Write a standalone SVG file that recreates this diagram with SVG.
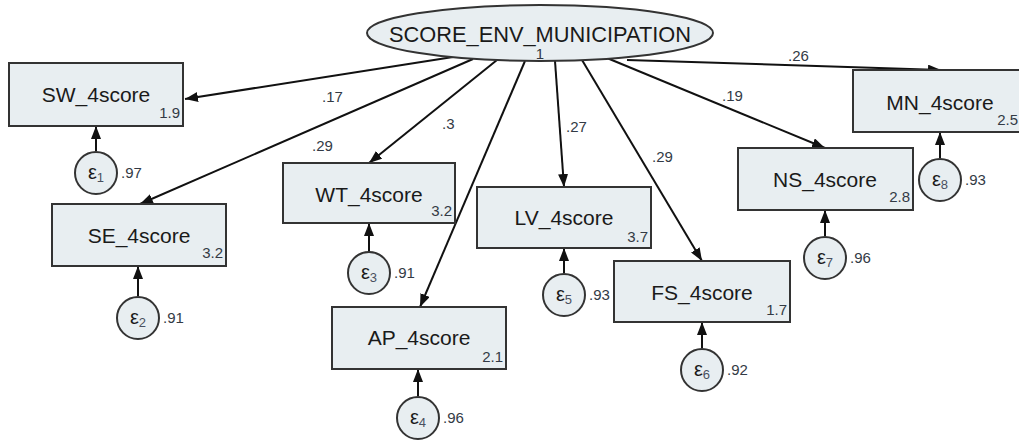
<svg xmlns="http://www.w3.org/2000/svg" width="1019" height="440" viewBox="0 0 1019 440">
<defs>
<marker id="ah" markerUnits="userSpaceOnUse" markerWidth="14" markerHeight="10" refX="13" refY="5" orient="auto">
<path d="M0,0 L13,5 L0,10 Z" fill="#111"/>
</marker>
<style>
.box{fill:#e8eef1;stroke:#333;stroke-width:2}
.err{fill:#e8eef1;stroke:#333;stroke-width:2}
.lbl{font-family:"Liberation Sans",Arial,sans-serif;font-size:21px;fill:#1a1a1a;text-anchor:middle}
.num{font-family:"Liberation Sans",Arial,sans-serif;font-size:15px;fill:#333a45}
.numr{font-family:"Liberation Sans",Arial,sans-serif;font-size:15px;fill:#333a45;text-anchor:end}
.eps{font-family:"Liberation Sans",Arial,sans-serif;font-size:20px;fill:#1a1a1a;text-anchor:middle}
.sub{font-size:13px;fill:#4a5060}
.conn line{stroke:#111;stroke-width:2;marker-end:url(#ah)}
</style>
</defs>
<rect width="1019" height="440" fill="#fff"/>

<g id="connectors" class="conn">
<line x1="453" y1="57" x2="185" y2="99"/>
<line x1="473" y1="59" x2="140" y2="204"/>
<line x1="497" y1="60" x2="369" y2="163"/>
<line x1="525" y1="61" x2="420" y2="307"/>
<line x1="555" y1="61" x2="564" y2="187"/>
<line x1="582" y1="60" x2="702" y2="261"/>
<line x1="607" y1="58" x2="825" y2="148"/>
<line x1="627" y1="60" x2="941" y2="70"/>
<line x1="96" y1="151" x2="96" y2="126"/>
<line x1="138" y1="296" x2="138" y2="266"/>
<line x1="369" y1="251" x2="369" y2="223"/>
<line x1="418" y1="396" x2="418" y2="369"/>
<line x1="564" y1="273" x2="564" y2="248"/>
<line x1="702" y1="348" x2="702" y2="322"/>
<line x1="825" y1="236" x2="825" y2="210"/>
<line x1="940" y1="158" x2="940" y2="132"/>
</g>

<g id="path-labels">
<text class="num" x="322" y="102">.17</text>
<text class="num" x="312" y="151">.29</text>
<text class="num" x="442" y="129">.3</text>
<text class="num" x="479" y="197">.2</text>
<text class="num" x="566" y="132">.27</text>
<text class="num" x="652" y="162">.29</text>
<text class="num" x="722" y="101">.19</text>
<text class="num" x="788" y="61">.26</text>
</g>

<g id="SCORE_ENV_MUNICIPATION">
<ellipse cx="540" cy="33" rx="173" ry="28" class="box"/>
<text class="lbl" x="540" y="42" style="font-size:21.8px">SCORE_ENV_MUNICIPATION</text>
<text class="num" x="540" y="59" style="text-anchor:middle">1</text>
</g>

<g id="SW_4score">
<rect x="9" y="63" width="174" height="63" class="box"/>
<text class="lbl" x="96" y="102">SW_4score</text>
<text class="numr" x="180" y="118">1.9</text>
</g>
<g id="SE_4score">
<rect x="52" y="204" width="174" height="62" class="box"/>
<text class="lbl" x="139" y="243">SE_4score</text>
<text class="numr" x="223" y="258">3.2</text>
</g>
<g id="WT_4score">
<rect x="283" y="163" width="172" height="60" class="box"/>
<text class="lbl" x="369" y="202">WT_4score</text>
<text class="numr" x="452" y="216">3.2</text>
</g>
<g id="AP_4score">
<rect x="332" y="307" width="174" height="62" class="box"/>
<text class="lbl" x="419" y="345">AP_4score</text>
<text class="numr" x="503" y="362">2.1</text>
</g>
<g id="LV_4score">
<rect x="477" y="187" width="174" height="61" class="box"/>
<text class="lbl" x="564" y="225">LV_4score</text>
<text class="numr" x="648" y="242">3.7</text>
</g>
<g id="FS_4score">
<rect x="614" y="261" width="176" height="61" class="box"/>
<text class="lbl" x="702" y="300">FS_4score</text>
<text class="numr" x="787" y="315">1.7</text>
</g>
<g id="NS_4score">
<rect x="738" y="148" width="175" height="62" class="box"/>
<text class="lbl" x="825" y="187">NS_4score</text>
<text class="numr" x="910" y="202">2.8</text>
</g>
<g id="MN_4score">
<rect x="853" y="70" width="174" height="62" class="box"/>
<text class="lbl" x="940" y="110">MN_4score</text>
<text class="numr" x="1018" y="125">2.5</text>
</g>

<g id="e1">
<circle cx="96" cy="173" r="21" class="err"/>
<text class="eps" x="96" y="179">ε<tspan class="sub" dy="3">1</tspan></text>
<text class="num" x="121" y="178">.97</text>
</g>
<g id="e2">
<circle cx="138" cy="318" r="21" class="err"/>
<text class="eps" x="138" y="324">ε<tspan class="sub" dy="3">2</tspan></text>
<text class="num" x="163" y="323">.91</text>
</g>
<g id="e3">
<circle cx="369" cy="273" r="21" class="err"/>
<text class="eps" x="369" y="279">ε<tspan class="sub" dy="3">3</tspan></text>
<text class="num" x="394" y="278">.91</text>
</g>
<g id="e4">
<circle cx="418" cy="418" r="21" class="err"/>
<text class="eps" x="418" y="424">ε<tspan class="sub" dy="3">4</tspan></text>
<text class="num" x="443" y="423">.96</text>
</g>
<g id="e5">
<circle cx="564" cy="295" r="21" class="err"/>
<text class="eps" x="564" y="301">ε<tspan class="sub" dy="3">5</tspan></text>
<text class="num" x="589" y="300">.93</text>
</g>
<g id="e6">
<circle cx="702" cy="370" r="21" class="err"/>
<text class="eps" x="702" y="376">ε<tspan class="sub" dy="3">6</tspan></text>
<text class="num" x="727" y="375">.92</text>
</g>
<g id="e7">
<circle cx="825" cy="258" r="21" class="err"/>
<text class="eps" x="825" y="264">ε<tspan class="sub" dy="3">7</tspan></text>
<text class="num" x="850" y="263">.96</text>
</g>
<g id="e8">
<circle cx="940" cy="180" r="21" class="err"/>
<text class="eps" x="940" y="186">ε<tspan class="sub" dy="3">8</tspan></text>
<text class="num" x="965" y="185">.93</text>
</g>
</svg>
